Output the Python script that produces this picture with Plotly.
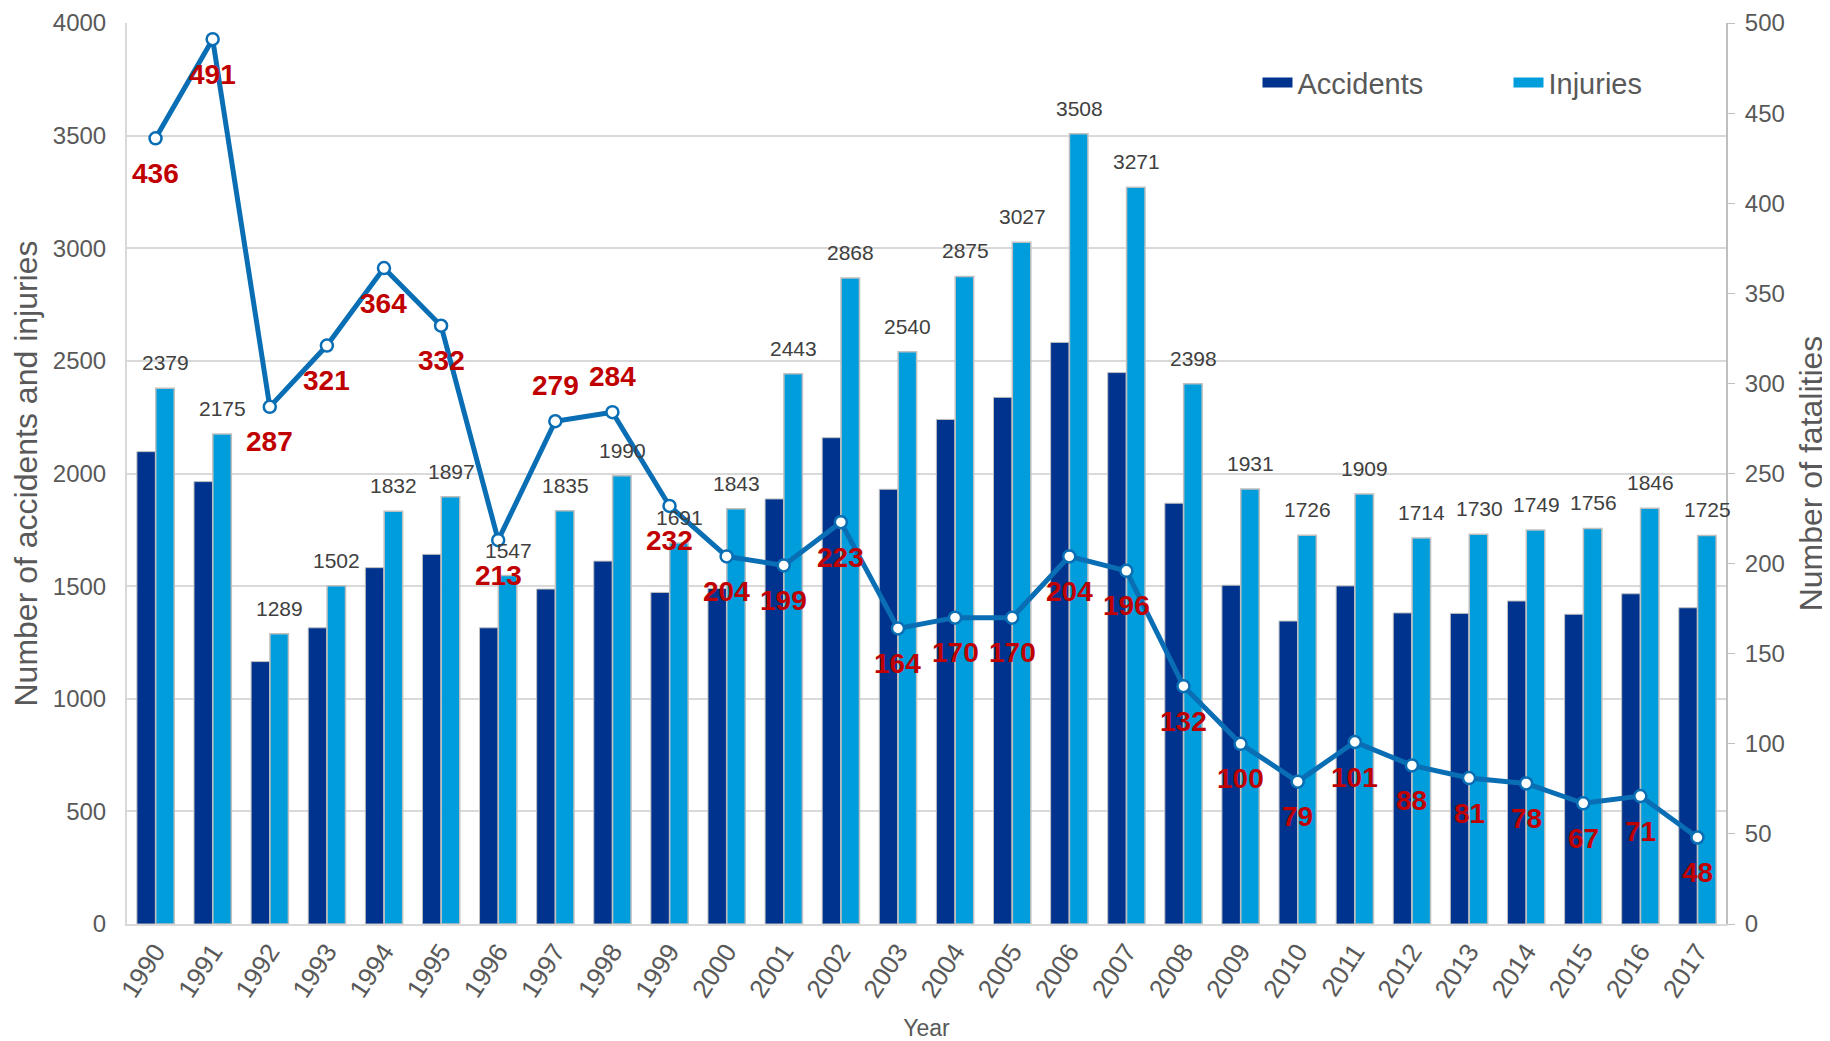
import plotly.graph_objects as go

years = list(range(1990, 2018))

accidents = [2097, 1964, 1165, 1315, 1582, 1641, 1315, 1487, 1611, 1472,
             1490, 1887, 2159, 1930, 2240, 2338, 2582, 2448, 1868, 1504,
             1345, 1501, 1381, 1379, 1434, 1375, 1466, 1404]

injuries = [2379, 2175, 1289, 1502, 1832, 1897, 1547, 1835, 1990, 1691,
            1843, 2443, 2868, 2540, 2875, 3027, 3508, 3271, 2398, 1931,
            1726, 1909, 1714, 1730, 1749, 1756, 1846, 1725]

fatalities = [436, 491, 287, 321, 364, 332, 213, 279, 284, 232,
              204, 199, 223, 164, 170, 170, 204, 196, 132, 100,
              79, 101, 88, 81, 78, 67, 71, 48]

# labels that sit above the point instead of below
labels_above = {1997, 1998}

FONT = "Liberation Sans, Arial, sans-serif"
GREY_TXT = "#595959"
NAVY = "#00338D"
CYAN = "#009DDC"
LINE_BLUE = "#0A6EB4"

fig = go.Figure()

fig.add_trace(go.Bar(
    x=years, y=accidents, name="Accidents", showlegend=False,
    marker=dict(color=NAVY, line=dict(color="#BFBFBF", width=1)),
))
fig.add_trace(go.Bar(
    x=years, y=injuries, name="Injuries", showlegend=False,
    marker=dict(color=CYAN, line=dict(color="#BFBFBF", width=1.5)),
))
fig.add_trace(go.Scatter(
    x=years, y=fatalities, name="Fatalities", yaxis="y2",
    mode="lines+markers", showlegend=False,
    line=dict(color=LINE_BLUE, width=5),
    marker=dict(symbol="circle", size=12, color="white",
                line=dict(color=LINE_BLUE, width=2.5)),
))

# legend-only entries so the swatches are wide bars like the original
for name, col in [("Accidents", NAVY), ("Injuries", CYAN)]:
    fig.add_trace(go.Scatter(
        x=[None], y=[None], name=name, mode="lines",
        line=dict(color=col, width=15),
    ))

# injury value labels above the light bars
for yr, v in zip(years, injuries):
    fig.add_annotation(
        x=yr, y=v, xref="x", yref="y", text=str(v), showarrow=False,
        xshift=10, yshift=12, yanchor="bottom",
        font=dict(family=FONT, size=21, color="#404040"),
    )

# fatality value labels
for yr, v in zip(years, fatalities):
    up = yr in labels_above
    fig.add_annotation(
        x=yr, y=v, xref="x", yref="y2", text="<b>%d</b>" % v, showarrow=False,
        yshift=36 if up else -35,
        font=dict(family=FONT, size=28, color="#C00000"),
    )

fig.update_layout(
    width=1830, height=1041,
    margin=dict(l=119, r=112, t=15, b=125, autoexpand=False),
    paper_bgcolor="white", plot_bgcolor="white",
    barmode="group", bargap=0.34, bargroupgap=0.02,
    font=dict(family=FONT, color=GREY_TXT),
    legend=dict(
        orientation="h", x=0.707, y=0.962, xanchor="left", yanchor="top",
        font=dict(size=29, color=GREY_TXT), bgcolor="rgba(0,0,0,0)",
        entrywidth=206,
    ),
    xaxis=dict(
        range=[1989.5, 2017.5], tickmode="linear", tick0=1990, dtick=1,
        tickangle=-57, automargin=False,
        tickfont=dict(size=26, color=GREY_TXT),
        showline=True, linecolor="#D9D9D9", linewidth=2,
        showgrid=False, zeroline=False, ticks="",
        title=dict(text="Year", font=dict(size=23, color=GREY_TXT), standoff=18),
    ),
    yaxis=dict(
        range=[0, 4000], dtick=500, automargin=False,
        tickfont=dict(size=24, color=GREY_TXT),
        showgrid=True, gridcolor="#D9D9D9", gridwidth=1.5,
        showline=True, linecolor="#D9D9D9", linewidth=2,
        zeroline=False, ticks="", ticklabelstandoff=14,
        title=dict(text="Number of accidents and injuries",
                   font=dict(size=32, color=GREY_TXT), standoff=8),
    ),
    yaxis2=dict(
        range=[0, 500], dtick=50, overlaying="y", side="right",
        automargin=False,
        tickfont=dict(size=24, color=GREY_TXT),
        showgrid=False, zeroline=False,
        showline=True, linecolor="#BFBFBF", linewidth=2,
        ticks="outside", ticklen=7, tickcolor="#BFBFBF", ticklabelstandoff=5,
        title=dict(text="Number of fatalities",
                   font=dict(size=32, color=GREY_TXT), standoff=16),
    ),
)

fig.write_html("out.html")
